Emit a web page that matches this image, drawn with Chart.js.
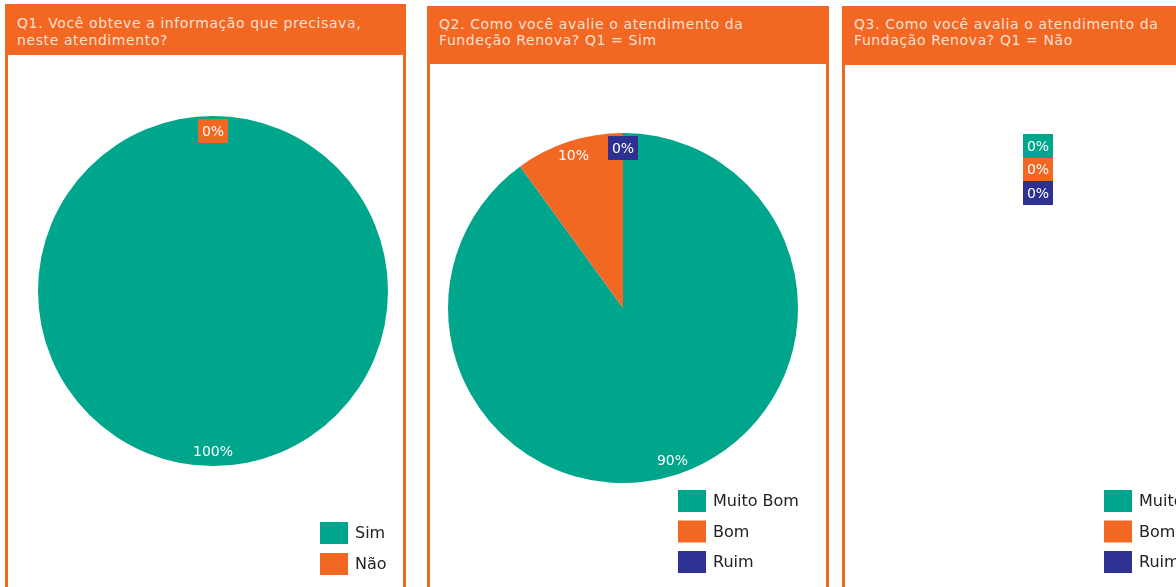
<!DOCTYPE html>
<html>
<head>
<meta charset="utf-8">
<script src="https://cdn.jsdelivr.net/npm/chart.js@4.4.0/dist/chart.umd.min.js"></script>
<style>
  html, body { margin: 0; padding: 0; background: #fff; width: 1176px; height: 587px; overflow: hidden; }
  .hdr { position: absolute; background: #f26722; color: rgba(255,255,255,0.82);
         font: 14px "DejaVu Sans", Verdana, sans-serif; letter-spacing: 0.6px; line-height: 16px;
         box-sizing: border-box; padding: 10px 0 0 12px; white-space: nowrap; overflow: hidden; }
  .body { position: absolute; border-left: 3px solid #f26722; border-right: 3px solid #f26722; }
  canvas { position: absolute; }
</style>
</head>
<body>
<div class="hdr" style="left:5px;top:4px;width:401px;height:51px;padding-top:11px;line-height:17px">Q1. Você obteve a informação que precisava,<br>neste atendimento?</div>
<div class="body" style="left:5px;top:55px;width:395px;height:540px"></div>
<canvas id="c1" width="395" height="532" style="left:8px;top:55px"></canvas>

<div class="hdr" style="left:427px;top:6px;width:402px;height:58px;padding-top:10px">Q2. Como você avalie o atendimento da<br>Fundeção Renova? Q1 = Sim</div>
<div class="body" style="left:427px;top:64px;width:396px;height:530px"></div>
<canvas id="c2" width="396" height="523" style="left:430px;top:64px"></canvas>

<div class="hdr" style="left:842px;top:6px;width:400px;height:59px;padding-top:10px">Q3. Como você avalia o atendimento da<br>Fundação Renova? Q1 = Não</div>
<div class="body" style="left:842px;top:65px;width:396px;height:530px"></div>
<canvas id="c3" width="396" height="522" style="left:845px;top:65px"></canvas>

<script>
'use strict';

const TEAL = '#00a68c', ORANGE = '#f26722', NAVY = '#2e3192';

// Q1
const q1Labels = ['Sim', 'Não'];
const q1Values = [100, 0];
const q1Colors = [TEAL, ORANGE];

// Q2 (Q1 = Sim)
const q2Labels = ['Muito Bom', 'Bom', 'Ruim'];
const q2Values = [90, 10, 0];
const q2Colors = [TEAL, ORANGE, NAVY];

// Q3 (Q1 = Não) - no answers
const q3Labels = ['Muito Bom', 'Bom', 'Ruim'];
const q3Values = [0, 0, 0];
const q3Colors = [TEAL, ORANGE, NAVY];

const FONT = '"DejaVu Sans", Verdana, sans-serif';

/* percentage labels; zero slices get a coloured box, stacked if they collide */
const pctLabels = {
  id: 'pctLabels',
  afterDatasetsDraw(chart) {
    const ctx = chart.ctx;
    const ds = chart.data.datasets[0];
    const meta = chart.getDatasetMeta(0);
    const total = ds.data.reduce((a, b) => a + b, 0);
    const placed = [];
    ctx.save();
    ctx.font = '14px ' + FONT;
    ctx.textAlign = 'center';
    ctx.textBaseline = 'middle';
    meta.data.forEach((arc, i) => {
      const v = ds.data[i];
      const pct = total ? Math.round(v / total * 100) : 0;
      const txt = pct + '%';
      const mid = (arc.startAngle + arc.endAngle) / 2;
      const r = arc.outerRadius * (total ? 0.915 : 0.93);
      const x = arc.x + Math.cos(mid) * r;
      let y = arc.y + Math.sin(mid) * r;
      const w = ctx.measureText(txt).width + 8, h = 23.5;
      while (placed.some(p => Math.abs(p.x - x) < (p.w + w) / 2 && Math.abs(p.y - y) < h - 1)) y += h;
      placed.push({ x, y, w });
      if (v === 0) {
        ctx.fillStyle = ds.backgroundColor[i];
        ctx.fillRect(Math.round(x - w / 2), Math.round(y - h / 2), Math.round(w), Math.ceil(h));
      }
      ctx.fillStyle = '#fff';
      ctx.fillText(txt, x, y + 1);
    });
    ctx.restore();
  }
};

/* vertical legend at a fixed spot in the canvas */
const boxLegend = {
  id: 'boxLegend',
  afterDraw(chart, args, opts) {
    const ctx = chart.ctx;
    const ds = chart.data.datasets[0];
    ctx.save();
    ctx.font = '16px ' + FONT;
    ctx.textBaseline = 'middle';
    chart.data.labels.forEach((lab, i) => {
      const y = opts.y + i * opts.step;
      ctx.fillStyle = ds.backgroundColor[i];
      ctx.fillRect(opts.x, y, 28, 22);
      ctx.fillStyle = '#222';
      ctx.fillText(lab, opts.x + 35, y + 12);
    });
    ctx.restore();
  }
};

function makePie(id, labels, values, colors, padding, legend) {
  return new Chart(document.getElementById(id), {
    type: 'pie',
    data: { labels, datasets: [{ data: values, backgroundColor: colors, borderWidth: 0 }] },
    options: {
      responsive: false,
      animation: false,
      layout: { padding },
      plugins: {
        legend: { display: false },
        tooltip: { enabled: false },
        boxLegend: legend
      }
    },
    plugins: [pctLabels, boxLegend]
  });
}

makePie('c1', q1Labels, q1Values, q1Colors,
  { left: 30, right: 15, top: 61, bottom: 121 }, { x: 312, y: 467, step: 31 });
makePie('c2', q2Labels, q2Values, q2Colors,
  { left: 18, right: 28, top: 69, bottom: 104 }, { x: 248, y: 426, step: 30.5 });
makePie('c3', q3Labels, q3Values, q3Colors,
  { left: 18, right: 28, top: 69, bottom: 104 }, { x: 259, y: 425, step: 30.5 });
</script>
</body>
</html>
